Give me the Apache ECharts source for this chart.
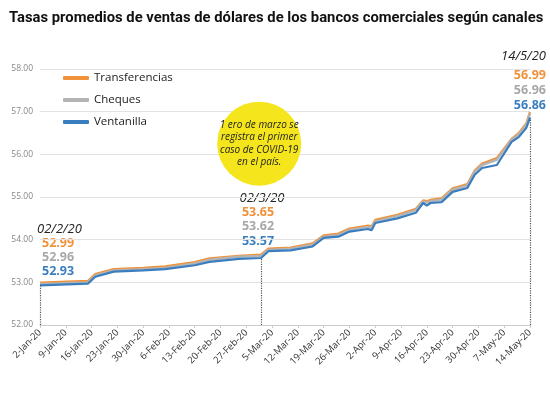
<!DOCTYPE html>
<html><head><meta charset="utf-8">
<script src="https://cdn.jsdelivr.net/npm/echarts@6/dist/echarts.min.js"></script>
<style>html,body{margin:0;padding:0;background:#fff}#c{width:550px;height:393px}</style>
</head><body><div id="c"></div>
<script>
const tickLabels = ['2-Jan-20','9-Jan-20','16-Jan-20','23-Jan-20','30-Jan-20','6-Feb-20','13-Feb-20','20-Feb-20','27-Feb-20','5-Mar-20','12-Mar-20','19-Mar-20','26-Mar-20','2-Apr-20','9-Apr-20','16-Apr-20','23-Apr-20','30-Apr-20','7-May-20','14-May-20'];
// day offsets from 2-Jan-2020
const days = [0,13,15,20,28,34,42,46,54,60,62,68,74,77,81,84,89,90,91,97,102,104,105,106,109,112,116,118,120,124,128,130,132,133];
const transferencias = [52.99,53.03,53.19,53.31,53.34,53.37,53.47,53.56,53.62,53.65,53.79,53.81,53.91,54.10,54.14,54.26,54.33,54.31,54.46,54.58,54.72,54.92,54.90,54.93,54.97,55.20,55.30,55.62,55.78,55.91,56.36,56.50,56.72,56.99];
const cheques = [52.96,53.00,53.16,53.28,53.31,53.34,53.44,53.53,53.60,53.62,53.76,53.79,53.88,54.07,54.11,54.23,54.30,54.28,54.43,54.55,54.69,54.90,54.87,54.90,54.94,55.17,55.27,55.59,55.75,55.87,56.34,56.47,56.69,56.96];
const ventanilla = [52.93,52.97,53.13,53.25,53.28,53.31,53.40,53.48,53.55,53.57,53.73,53.75,53.84,54.04,54.07,54.19,54.25,54.22,54.39,54.50,54.63,54.86,54.80,54.86,54.88,55.12,55.21,55.52,55.68,55.75,56.29,56.41,56.62,56.86];
const seriesNames = ['Transferencias','Cheques','Ventanilla'];
const colors = ['#F0923A','#B4B4B4','#3A7EBF'];
const markDays = [0,60,133];

const pair = arr => days.map((d,i)=>[d,arr[i]]);
const idx = d => days.indexOf(d);

const chart = echarts.init(document.getElementById('c'));
const F = '"Open Sans", sans-serif';
chart.setOption({
  animation:false,
  title:{text:'Tasas promedios de ventas de dólares de los bancos comerciales según canales',left:4,top:6,
    textStyle:{fontFamily:'Roboto',fontWeight:'bold',fontSize:14.8,color:'#111'}},
  grid:{left:40,right:20,top:69,bottom:68},
  legend:{orient:'vertical',left:58,top:67,itemGap:10,itemWidth:26,itemHeight:4,icon:'roundRect',
    textStyle:{fontFamily:F,fontSize:11.5,color:'#222'},data:seriesNames},
  xAxis:{type:'value',min:0,max:133,interval:7,
    axisLine:{lineStyle:{color:'#ccc'}},axisTick:{show:true,length:3,lineStyle:{color:'#ccc'}},
    splitLine:{show:false},
    axisLabel:{rotate:45,fontFamily:F,fontSize:9.5,color:'#333',margin:6,formatter:v=>tickLabels[Math.round(v/7)]||''}},
  yAxis:{type:'value',min:52,max:58,interval:1,
    axisLine:{show:false},axisTick:{show:false},
    splitLine:{lineStyle:{color:'#e2e2e2'}},
    axisLabel:{fontFamily:F,fontSize:8.5,color:'#888',margin:7,formatter:v=>v.toFixed(2)}},
  series:[
    {name:seriesNames[0],type:'line',data:pair(transferencias),showSymbol:false,lineStyle:{width:2.4,color:colors[0]},itemStyle:{color:colors[0]},z:2},
    {name:seriesNames[1],type:'line',data:pair(cheques),showSymbol:false,lineStyle:{width:2.4,color:colors[1]},itemStyle:{color:colors[1]},z:3},
    {name:seriesNames[2],type:'line',data:pair(ventanilla),showSymbol:false,lineStyle:{width:2.2,color:colors[2]},itemStyle:{color:colors[2]},z:4,
      markLine:{silent:true,symbol:'none',label:{show:false},lineStyle:{type:'dotted',color:'#555',width:1.2},
        data:markDays.map(d=>[{coord:[d,52]},{coord:[d,ventanilla[idx(d)]]}])},
      markPoint:{silent:true,data:[{coord:[59.5,56.25],symbol:'circle',symbolSize:84,itemStyle:{color:'#F4E51C'},
        label:{show:true,position:'inside',fontFamily:F,fontStyle:'italic',fontSize:10,lineHeight:12.5,color:'#222',
          formatter:'1 ero de marzo se\nregistra el primer\ncaso de COVID-19\nen el país.'}}]}
    }
  ],
  graphic:[
    {type:'text',left:37,top:223,style:{text:'02/2/20',font:'italic 13px "Open Sans"',fill:'#222'}},
    {type:'text',left:42,top:237,style:{text:transferencias[0].toFixed(2),font:'bold 12.5px "Open Sans"',fill:colors[0]}},
    {type:'text',left:42,top:251,style:{text:cheques[0].toFixed(2),font:'bold 12.5px "Open Sans"',fill:'#A8A8A8'}},
    {type:'text',left:42,top:265,style:{text:ventanilla[0].toFixed(2),font:'bold 12.5px "Open Sans"',fill:colors[2]}},
    {type:'text',x:262,y:192,style:{text:'02/3/20',font:'italic 13px "Open Sans"',fill:'#222',align:'center'}},
    {type:'text',x:258,y:206,style:{text:transferencias[idx(60)].toFixed(2),font:'bold 12.5px "Open Sans"',fill:colors[0],align:'center'}},
    {type:'text',x:258,y:220,style:{text:cheques[idx(60)].toFixed(2),font:'bold 12.5px "Open Sans"',fill:'#A8A8A8',align:'center'}},
    {type:'text',x:258,y:235,style:{text:ventanilla[idx(60)].toFixed(2),font:'bold 12.5px "Open Sans"',fill:colors[2],align:'center'}},
    {type:'text',x:546,y:50,style:{text:'14/5/20',font:'italic 13px "Open Sans"',fill:'#222',align:'right'}},
    {type:'text',x:546,y:69,style:{text:transferencias[idx(133)].toFixed(2),font:'bold 12.5px "Open Sans"',fill:colors[0],align:'right'}},
    {type:'text',x:546,y:84,style:{text:cheques[idx(133)].toFixed(2),font:'bold 12.5px "Open Sans"',fill:'#A8A8A8',align:'right'}},
    {type:'text',x:546,y:99,style:{text:ventanilla[idx(133)].toFixed(2),font:'bold 12.5px "Open Sans"',fill:colors[2],align:'right'}}
  ]
});
</script></body></html>
